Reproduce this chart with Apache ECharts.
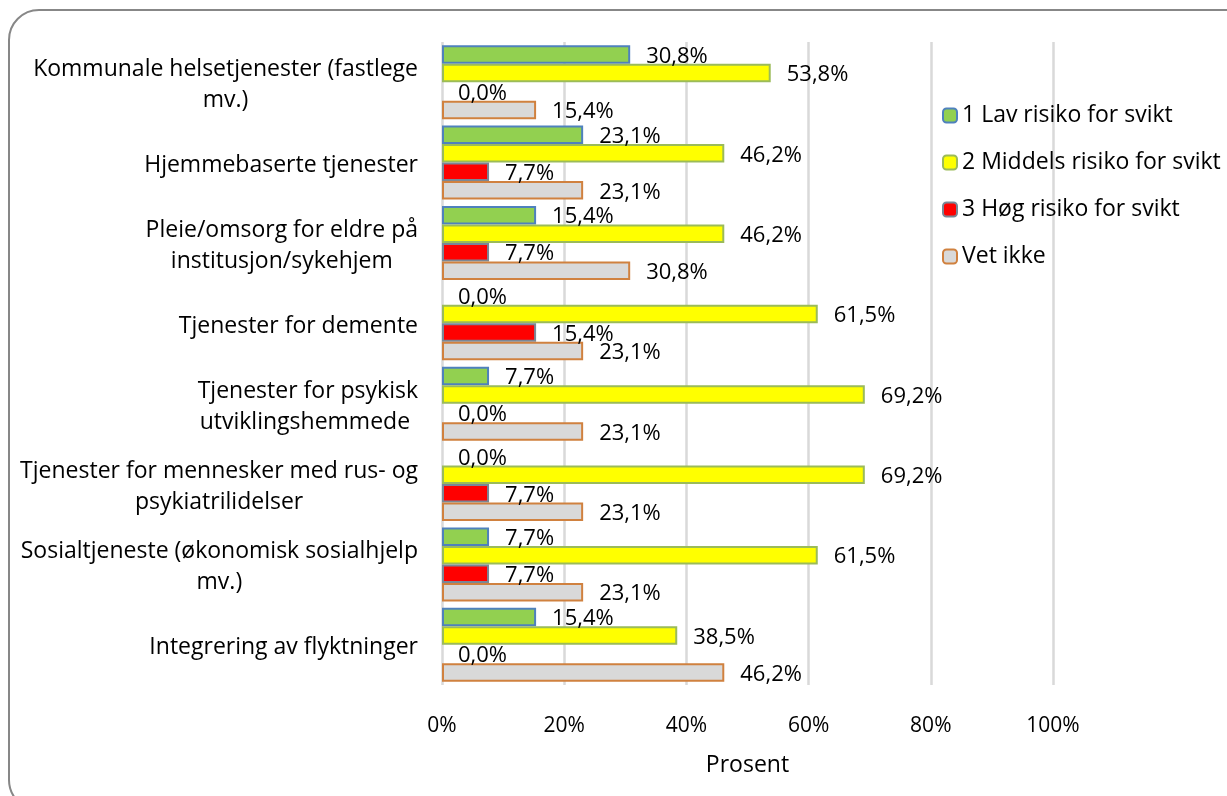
<!DOCTYPE html>
<html>
<head>
<meta charset="utf-8">
<script src="https://cdn.jsdelivr.net/npm/echarts@6/dist/echarts.min.js"></script>
<style>
  html, body { margin: 0; padding: 0; background: #fff; }
  #chart { width: 1227px; height: 796px; }
</style>
</head>
<body>
<div id="chart"></div>
<script>
  // kategorier (linjeskift som i originalen)
  var categories = [
    'Kommunale helsetjenester (fastlege\nmv.)',
    'Hjemmebaserte tjenester',
    'Pleie/omsorg for eldre på\ninstitusjon/sykehjem',
    'Tjenester for demente',
    'Tjenester for psykisk\nutviklingshemmede ',
    'Tjenester for mennesker med rus- og\npsykiatrilidelser',
    'Sosialtjeneste (økonomisk sosialhjelp\nmv.)',
    'Integrering av flyktninger'
  ];
  var seriesNames = ['1 Lav risiko for svikt', '2 Middels risiko for svikt', '3 Høg risiko for svikt', 'Vet ikke'];
  var lav     = [30.8, 23.1, 15.4, 0.0, 7.7, 0.0, 7.7, 15.4];
  var middels = [53.8, 46.2, 46.2, 61.5, 69.2, 69.2, 61.5, 38.5];
  var hoy     = [0.0, 7.7, 7.7, 15.4, 0.0, 7.7, 7.7, 0.0];
  var vetIkke = [15.4, 23.1, 30.8, 23.1, 23.1, 23.1, 23.1, 46.2];
  var xTicks = [0, 20, 40, 60, 80, 100];

  var FONT = 'Open Sans';
  var fills   = ['#92d050', '#ffff00', '#ff0000', '#d9d9d9'];
  var borders = ['#4f81bd', '#9bbb59', '#7a8796', '#d0813f'];
  var allData = [lav, middels, hoy, vetIkke];

  let myChart = echarts.init(document.getElementById('chart'));

  var series = seriesNames.map(function (name, i) {
    return {
      name: name,
      type: 'bar',
      // null-søyler skal ikke vise kantlinje
      data: allData[i].map(function (v) {
        return v === 0 ? { value: v, itemStyle: { borderWidth: 0 } } : v;
      }),
      barGap: '0%',
      barCategoryGap: '8%',
      itemStyle: { color: fills[i], borderColor: borders[i], borderWidth: 2 },
      label: {
        show: true,
        position: 'right',
        distance: 16,
        offset: [0, 2],
        color: '#000',
        fontFamily: FONT,
        fontSize: 22,
        formatter: function (p) { return p.value.toFixed(1).replace('.', ',') + '%'; }
      }
    };
  });

  var option = {
    animation: false,
    textStyle: { fontFamily: FONT },
    graphic: [{
      type: 'rect',
      shape: { x: 9, y: 10, width: 1250, height: 800, r: 30 },
      style: { fill: 'none', stroke: '#878787', lineWidth: 2 },
      silent: true
    }],
    grid: { left: 442, right: 174, top: 42, bottom: 111 },
    legend: {
      orient: 'vertical',
      left: 937,
      top: 99,
      itemWidth: 14,
      itemHeight: 14,
      itemGap: 24,
      textStyle: { fontFamily: FONT, fontSize: 23, color: '#000', lineHeight: 22 },
      data: seriesNames
    },
    xAxis: {
      type: 'value',
      min: xTicks[0],
      max: xTicks[xTicks.length - 1],
      interval: 20,
      name: 'Prosent',
      nameLocation: 'middle',
      nameGap: 69,
      nameTextStyle: { fontFamily: FONT, fontSize: 23, color: '#000' },
      axisLine: { show: false },
      axisTick: { show: false },
      axisLabel: { margin: 31, fontFamily: FONT, fontSize: 21, color: '#000', formatter: '{value}%' },
      splitLine: { show: true, lineStyle: { color: '#d9d9d9', width: 2.5 } }
    },
    yAxis: {
      type: 'category',
      inverse: true,
      data: categories,
      axisLine: { show: false },
      axisTick: { show: false },
      axisLabel: {
        margin: 24,
        padding: [6, 0, 0, 0],
        fontFamily: FONT,
        fontSize: 23,
        color: '#000',
        lineHeight: 31,
        // flere linjer sentreres mot hverandre
        formatter: function (v) {
          var lines = v.split('\n');
          if (lines.length === 1) return v;
          return lines.map(function (l) { return '{c|' + l + '}'; }).join('\n');
        },
        rich: { c: { align: 'center', fontFamily: FONT, fontSize: 23, color: '#000', lineHeight: 31 } }
      }
    },
    series: series
  };

  myChart.setOption(option);
</script>
</body>
</html>
